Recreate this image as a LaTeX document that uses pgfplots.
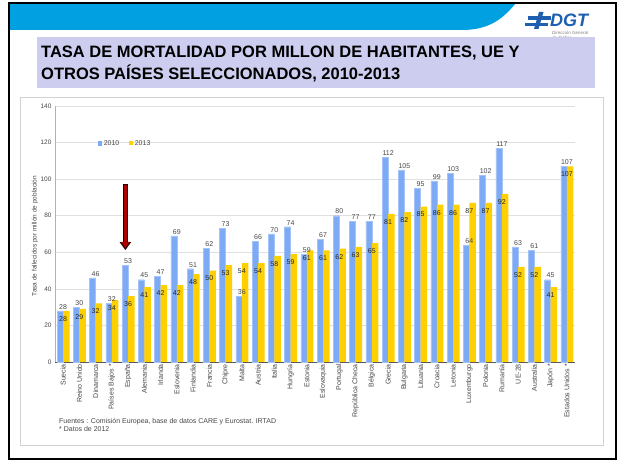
\documentclass[border=0pt]{standalone}
\usepackage{pgfplots}
\pgfplotsset{compat=1.18}
\usepackage{pgfplotstable}
\usepackage{fontspec}
\setmainfont{Liberation Sans}
\usetikzlibrary{arrows.meta}
\definecolor{blu}{RGB}{125,170,245}
\definecolor{yel}{RGB}{255,208,0}
\definecolor{hdr}{RGB}{0,160,225}
\definecolor{lav}{RGB}{205,205,240}
\definecolor{dgt}{RGB}{30,95,175}
\definecolor{txt}{RGB}{70,70,70}
\definecolor{arr}{RGB}{175,0,0}

\pgfplotstableread{
idx v2010 v2013
0 28 28
1 30 29
2 46 32
3 32 34
4 53 36
5 45 41
6 47 42
7 69 42
8 51 48
9 62 50
10 73 53
11 36 54
12 66 54
13 70 58
14 74 59
15 59 61
16 67 61
17 80 62
18 77 63
19 77 65
20 112 81
21 105 82
22 95 85
23 99 86
24 103 86
25 64 87
26 102 87
27 117 92
28 63 52
29 61 52
30 45 41
31 107 107
}\data

\newcommand{\sm}{\fontsize{7bp}{8bp}\selectfont}
\newcommand{\tn}{\fontsize{6.5bp}{7.5bp}\selectfont}

\begin{document}
\begin{tikzpicture}[x=1bp,y=1bp]
\useasboundingbox (0,0) rectangle (618,461);
% header band
\fill[hdr] (9,458) -- (9,431) -- (462,431) .. controls (492,431) and (505,445) .. (516,458) -- cycle;
% frame
\draw[black, line width=2bp] (9,2) rectangle (616,458);
% logo
\fill[dgt] (528,441) rectangle (551,444.5);
\fill[dgt] (525,434.5) rectangle (548,438);
\fill[dgt] (539,449) -- (543.5,449) -- (538.5,432) -- (534,432) -- cycle;
\node[anchor=base west, inner sep=0, text=dgt, font=\bfseries\itshape\fontsize{18bp}{18bp}\selectfont] at (550,434) {DGT};
\node[anchor=base west, inner sep=0, text=gray, font=\itshape\fontsize{4.5bp}{5bp}\selectfont] at (552,426) {Dirección General};
\node[anchor=base west, inner sep=0, text=gray, font=\itshape\fontsize{4.5bp}{5bp}\selectfont] at (552,421) {de Tráfico};
% title box
\fill[lav] (37,373) rectangle (595,424);
\node[anchor=base west, inner sep=0, font=\bfseries\fontsize{16.5bp}{20bp}\selectfont] at (41,403) {TASA DE MORTALIDAD POR MILLON DE HABITANTES, UE Y};
\node[anchor=base west, inner sep=0, font=\bfseries\fontsize{16.5bp}{20bp}\selectfont] at (41,381) {OTROS PAÍSES SELECCIONADOS, 2010-2013};
% chart box
\draw[gray!35] (20,16) rectangle (603,364);
% y label
\node[rotate=90, text=txt, font=\tn] at (35,225) {Tasa de fallecidos por millón de población};
% sources
\node[anchor=base west, inner sep=0, text=txt, font=\sm] at (59,37) {Fuentes : Comisión Europea, base de datos CARE y Eurostat. IRTAD};
\node[anchor=base west, inner sep=0, text=txt, font=\sm] at (59,29) {* Datos de 2012};

\begin{axis}[
  at={(55bp,99bp)}, anchor=south west, scale only axis,
  width=520bp, height=256bp,
  xmin=-0.5, xmax=31.5, ymin=0, ymax=140,
  ytick={0,20,...,140},
  xtick={0,...,31},
  xticklabels={Suecia, Reino Unido, Dinamarca, Países Bajos *, España, Alemania, Irlanda, Eslovenia, Finlandia, Francia, Chipre, Malta, Austria, Italia, Hungría, Estonia, Eslovaquia, Portugal, República Checa, Bélgica, Grecia, Bulgaria, Lituania, Croacia, Letonia, Luxemburgo, Polonia, Rumanía, UE-28, Australia, Japón *, Estados Unidos *},
  x tick label style={rotate=90, anchor=east, font=\sm, text=txt, inner sep=2bp},
  y tick label style={font=\tn, text=txt},
  /pgf/number format/assume math mode=true,
  ymajorgrids, grid style={gray!25, line width=0.6bp},
  axis x line*=bottom, axis y line*=left,
  x axis line style={black!65, line width=0.8bp, -},
  y axis line style={gray!60, -},
  major tick length=0pt,
  legend style={at={(rel axis cs:0.135,0.854)}, anchor=center, draw=none, fill=none, font=\sm, text=txt, legend columns=2, /tikz/every even column/.append style={column sep=8bp}},
  clip=false,
]
\addplot[ybar, bar width=6bp, bar shift=-3bp, fill=blu, draw=blu!70!white, line width=0.3bp,
  nodes near coords, every node near coord/.append style={font=\sm, text=txt, inner sep=1.5bp},
  legend image code/.code={\fill[blu] (0bp,-1.5bp) rectangle (3.5bp,2bp);}]
  table[x=idx, y=v2010] {\data};
\addlegendentry{2010}
\addplot[ybar, bar width=6.5bp, bar shift=3.25bp, fill=yel, draw=none,
  nodes near coords, every node near coord/.append style={font=\sm, text=black!85, anchor=center, yshift=-8bp},
  legend image code/.code={\fill[yel] (0bp,-1.5bp) rectangle (3.5bp,2bp);}]
  table[x=idx, y=v2013] {\data};
\addlegendentry{2013}
\draw[-{Triangle[length=8bp,width=11bp]}, line width=4.5bp, black!80!arr] (axis cs:3.83,97.3) -- (axis cs:3.83,61.2);
\draw[-{Triangle[length=6.2bp,width=8.2bp]}, line width=2.8bp, arr] (axis cs:3.83,96.7) -- (axis cs:3.83,62.3);
\end{axis}
\end{tikzpicture}
\end{document}
